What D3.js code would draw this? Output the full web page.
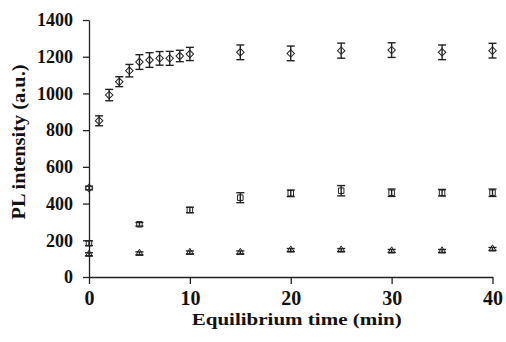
<!DOCTYPE html>
<html>
<head>
<meta charset="utf-8">
<script src="https://cdn.jsdelivr.net/npm/d3@7"></script>
<style>
  body { margin: 0; background: #fff; }
  svg text { font-family: "Liberation Serif", "Times New Roman", serif !important; font-weight: bold; fill: #111; }
</style>
</head>
<body>
<div class="canvas"></div>
<script>
// data
const timeA = [0, 1, 2, 3, 4, 5, 6, 7, 8, 9, 10, 15, 20, 25, 30, 35, 40];
const diamondVals = [485, 851, 991, 1064, 1124, 1171, 1182, 1191, 1191, 1204, 1215, 1224, 1218, 1233, 1236, 1224, 1233];
const diamondErr = [10, 27, 31, 27, 34, 40, 40, 37, 38, 31, 36, 40, 40, 41, 40, 40, 40];

const timeB = [0, 5, 10, 15, 20, 25, 30, 35, 40];
const squareVals = [184, 287, 365, 432, 456, 470, 459, 459, 459];
const squareErr = [13, 10, 15, 27, 18, 28, 20, 18, 20];
const triangleVals = [124, 129, 134, 134, 147, 147, 142, 142, 153];
const triangleErr = [8, 8, 8, 8, 8, 8, 8, 8, 8];

const xTicks = [0, 10, 20, 30, 40];
const yTicks = [0, 200, 400, 600, 800, 1000, 1200, 1400];

const width = 506;
const height = 342;
const margin = { top: 20, left: 89, right: 13, bottom: 65 };
const graphWidth = width - margin.left - margin.right;
const graphHeight = height - margin.top - margin.bottom;

const svg = d3
  .select(".canvas")
  .append("svg")
  .attr("width", width)
  .attr("height", height);

const graph = svg
  .append("g")
  .attr("transform", `translate(${margin.left},${margin.top})`);

// scales
const x = d3.scaleLinear().domain([0, 40]).range([0, graphWidth - 0.5]);
const y = d3.scaleLinear().domain([0, 1400]).range([graphHeight, 0]);

// axes
const xAxis = d3
  .axisBottom(x)
  .tickValues(xTicks)
  .tickFormat(d3.format("d"))
  .tickSize(7)
  .tickSizeOuter(0)
  .tickPadding(7);
const yAxis = d3
  .axisLeft(y)
  .tickValues(yTicks)
  .tickFormat(d3.format("d"))
  .tickSize(6)
  .tickSizeOuter(0)
  .tickPadding(10);

const xAxisGroup = graph
  .append("g")
  .attr("transform", `translate(0,${graphHeight})`)
  .call(xAxis);
const yAxisGroup = graph.append("g").call(yAxis);

[xAxisGroup, yAxisGroup].forEach((g) => {
  g.attr("font-family", null);
  g.selectAll("path, line").attr("stroke", "#222").attr("stroke-width", 1.3);
});
xAxisGroup.selectAll("text").style("font-size", "20px");
yAxisGroup.selectAll("text").style("font-size", "18px");

// axis titles (stretched a bit, like the source figure)
svg
  .append("text")
  .attr("x", margin.left + x(20) + 6)
  .attr("y", 325)
  .attr("text-anchor", "middle")
  .attr("textLength", 210)
  .attr("lengthAdjust", "spacingAndGlyphs")
  .style("font-size", "17px")
  .text("Equilibrium time (min)");

svg
  .append("text")
  .attr("transform", "translate(25,142) rotate(-90)")
  .attr("text-anchor", "middle")
  .attr("textLength", 155)
  .attr("lengthAdjust", "spacingAndGlyphs")
  .style("font-size", "18px")
  .text("PL intensity (a.u.)");

// series
const series = [
  { t: timeA, v: diamondVals, e: diamondErr, type: d3.symbolSquare, size: 28, rot: 45 },
  { t: timeB, v: squareVals, e: squareErr, type: d3.symbolSquare, size: 30, rot: 0 },
  { t: timeB, v: triangleVals, e: triangleErr, type: d3.symbolTriangle, size: 22, rot: 0 },
];

series.forEach((s) => {
  const pts = s.t.map((t, i) => ({ t, v: s.v[i], e: s.e[i] }));
  const g = graph.append("g");

  // error bars
  const bars = g.selectAll(".err").data(pts).enter().append("g").attr("class", "err");
  bars
    .append("line")
    .attr("x1", (d) => x(d.t))
    .attr("x2", (d) => x(d.t))
    .attr("y1", (d) => y(d.v - d.e))
    .attr("y2", (d) => y(d.v + d.e));
  [-1, 1].forEach((sign) => {
    bars
      .append("line")
      .attr("x1", (d) => x(d.t) - 4)
      .attr("x2", (d) => x(d.t) + 4)
      .attr("y1", (d) => y(d.v + sign * d.e))
      .attr("y2", (d) => y(d.v + sign * d.e));
  });
  bars.selectAll("line").attr("stroke", "#222").attr("stroke-width", 1.4);

  // markers
  g.selectAll(".pt")
    .data(pts)
    .enter()
    .append("path")
    .attr("class", "pt")
    .attr("d", d3.symbol().type(s.type).size(s.size))
    .attr("transform", (d) => `translate(${x(d.t)},${y(d.v)}) rotate(${s.rot})`)
    .attr("fill", "none")
    .attr("stroke", "#222")
    .attr("stroke-width", 1);
});
</script>
</body>
</html>
